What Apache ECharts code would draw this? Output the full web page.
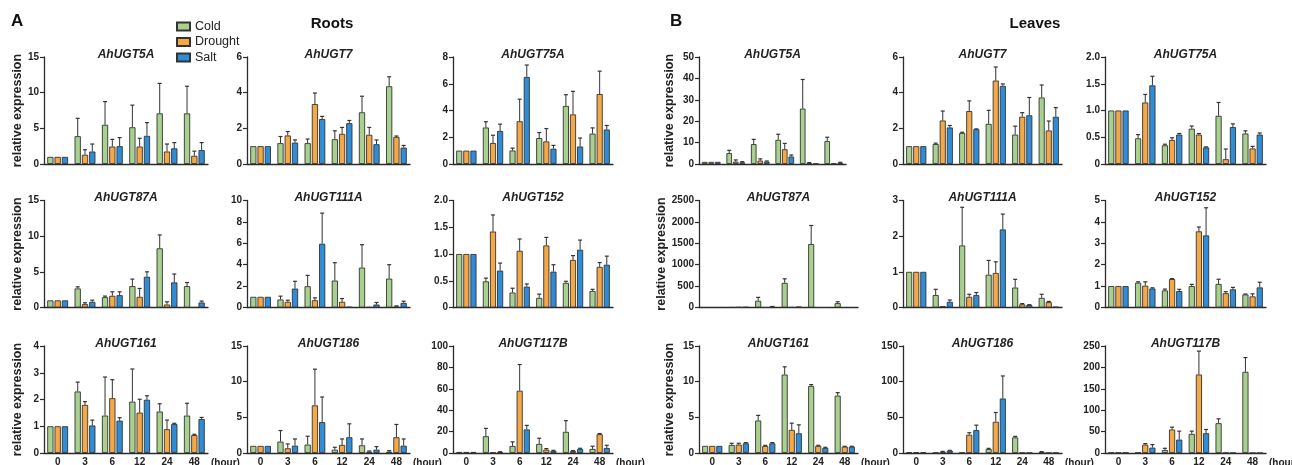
<!DOCTYPE html>
<html><head><meta charset="utf-8">
<script src="https://cdn.jsdelivr.net/npm/echarts@6/dist/echarts.min.js"></script>
<style>html,body{margin:0;padding:0;background:#fff}#c{width:1292px;height:465px}</style>
</head><body><div id="c"></div>
<script>
// ---------- DATA ----------
const hours = ['0', '3', '6', '12', '24', '48'];
const conditions = ['Cold', 'Drought', 'Salt'];

// Roots  (rows: Cold, Drought, Salt)
const rUGT5A_mean = [[1, 3.9, 5.5, 5.15, 7.1, 7.1], [1, 1.3, 2.45, 2.45, 1.75, 1.15], [1, 1.75, 2.5, 3.95, 2.2, 1.95]];
const rUGT5A_sd   = [[0, 2.5, 3.25, 3.1, 4.2, 3.8], [0, 0.7, 1.0, 1.15, 1.05, 0.65], [0, 1.05, 1.2, 1.85, 0.8, 1.05]];
const rUGT7_mean = [[1, 1.17, 1.17, 1.39, 2.9, 4.36], [1, 1.6, 3.36, 1.69, 1.64, 1.52], [1, 1.2, 2.52, 2.29, 1.11, 0.92]];
const rUGT7_sd   = [[0, 0.37, 0.23, 0.47, 0.9, 0.53], [0, 0.22, 0.62, 0.36, 0.41, 0.05], [0, 0.15, 0.15, 0.15, 0.24, 0.12]];
const rUGT75A_mean = [[1, 2.73, 1.01, 1.94, 4.34, 2.27], [1, 1.57, 3.2, 1.69, 3.71, 5.23], [1, 2.47, 6.51, 1.14, 1.31, 2.58]];
const rUGT75A_sd   = [[0, 0.43, 0.18, 0.41, 0.84, 0.43], [0, 0.58, 1.65, 0.96, 1.72, 1.71], [0, 0.51, 0.89, 0.25, 0.63, 0.3]];
const rUGT87A_mean = [[1, 2.67, 1.45, 3.0, 8.3, 3.0], [1, 0.47, 1.64, 1.5, 0.42, 0.02], [1, 0.8, 1.73, 4.31, 3.52, 0.7]];
const rUGT87A_sd   = [[0, 0.23, 0.15, 0.98, 1.87, 0.5], [0, 0.19, 0.56, 1.17, 0.38, 0], [0, 0.23, 0.47, 0.69, 1.17, 0.2]];
const rUGT111A_mean = [[1, 0.75, 1.99, 2.52, 3.73, 2.7], [1, 0.53, 0.68, 0.53, 0.03, 0.09], [1, 1.77, 5.96, 0.06, 0.28, 0.43]];
const rUGT111A_sd   = [[0, 0.31, 1.01, 1.67, 2.14, 1.3], [0, 0.15, 0.22, 0.31, 0, 0.06], [0, 0.68, 2.86, 0, 0.19, 0.16]];
const rUGT152_mean = [[1, 0.49, 0.28, 0.18, 0.46, 0.31], [1, 1.42, 1.06, 1.16, 0.89, 0.76], [1, 0.69, 0.39, 0.67, 1.08, 0.8]];
const rUGT152_sd   = [[0, 0.06, 0.08, 0.07, 0.03, 0.03], [0, 0.31, 0.22, 0.15, 0.08, 0.08], [0, 0.14, 0.05, 0.13, 0.18, 0.16]];
const rUGT161_mean = [[1, 2.3, 1.4, 1.92, 1.55, 1.4], [1, 1.8, 2.05, 1.51, 0.89, 0.67], [1, 1.03, 1.21, 1.99, 1.08, 1.27]];
const rUGT161_sd   = [[0, 0.35, 1.44, 1.22, 0.29, 0.46], [0, 0.12, 0.69, 0.5, 0.34, 0.03], [0, 0.2, 0.11, 0.15, 0.03, 0.06]];
const rUGT186_mean = [[1, 1.6, 1.18, 0.47, 1.08, 0.19], [1, 0.66, 6.68, 1.13, 0.19, 2.21], [1, 1.03, 4.33, 2.21, 0.47, 1.03]];
const rUGT186_sd   = [[0, 1.55, 1.17, 0.33, 0.89, 0.14], [0, 0.61, 5.07, 0.84, 0.09, 1.79], [0, 0.94, 3.52, 1.88, 0.42, 0.94]];
const rUGT117B_mean = [[1, 15.7, 6.6, 8.5, 19.8, 3.8], [1, 0.6, 58.2, 3.1, 1.9, 17.6], [1, 0.9, 22, 1.9, 3.8, 4.7]];
const rUGT117B_sd   = [[0, 7.3, 3.8, 5.3, 10.4, 2.5], [0, 0, 24.5, 1.0, 0.3, 0.6], [0, 0.3, 3.8, 0.6, 0.6, 2.5]];

// Leaves
const lUGT5A_mean = [[1, 5.1, 9.3, 11.3, 25.9, 10.7], [1, 1.1, 1.6, 6.9, 0.5, 0.2], [1, 0.8, 1.1, 3.5, 0.2, 0.6]];
const lUGT5A_sd   = [[0, 1.3, 2.2, 2.6, 13.6, 1.8], [0, 0.8, 0.8, 2.7, 0.14, 0], [0, 0.3, 0.3, 0.7, 0, 0.2]];
const lUGT7_mean = [[1, 1.12, 1.74, 2.25, 1.65, 3.73], [1, 2.44, 2.97, 4.68, 2.65, 1.88], [1, 2.05, 1.95, 4.38, 2.73, 2.65]];
const lUGT7_sd   = [[0, 0.05, 0.04, 0.76, 0.47, 0.7], [0, 0.53, 0.57, 0.76, 0.23, 0.53], [0, 0.11, 0.02, 0.11, 1.0, 0.51]];
const lUGT75A_mean = [[1, 0.48, 0.35, 0.66, 0.9, 0.57], [1, 1.15, 0.45, 0.55, 0.09, 0.29], [1, 1.47, 0.55, 0.31, 0.69, 0.55]];
const lUGT75A_sd   = [[0, 0.07, 0.02, 0.05, 0.25, 0.05], [0, 0.15, 0.04, 0.02, 0.19, 0.04], [0, 0.17, 0.02, 0.01, 0.06, 0.03]];
const lUGT87A_mean = [[1, 3, 158, 576, 1483, 102], [1, 8, 2, 5, 0, 0], [1, 12, 16, 20, 0, 0]];
const lUGT87A_sd   = [[0, 0, 79, 94, 433, 32], [0, 0, 0, 0, 0, 0], [0, 0, 8, 0, 0, 0]];
const lUGT111A_mean = [[1, 0.35, 1.74, 0.92, 0.56, 0.27], [1, 0.04, 0.3, 0.97, 0.09, 0.15], [1, 0.16, 0.35, 2.19, 0.07, 0.02]];
const lUGT111A_sd   = [[0, 0.16, 1.07, 0.4, 0.23, 0.1], [0, 0, 0.07, 0.31, 0.02, 0.02], [0, 0.05, 0.07, 0.43, 0.01, 0]];
const lUGT152_mean = [[1, 1.16, 0.8, 1.0, 1.1, 0.61], [1, 1.02, 1.33, 3.56, 0.67, 0.52], [1, 0.89, 0.77, 3.37, 0.85, 0.94]];
const lUGT152_sd   = [[0, 0.04, 0.06, 0.08, 0.22, 0.02], [0, 0.18, 0.02, 0.2, 0.07, 0.12], [0, 0.03, 0.08, 1.29, 0.09, 0.24]];
const lUGT161_mean = [[1, 1.13, 4.56, 11.0, 9.4, 8.04], [1, 1.18, 0.99, 3.24, 0.99, 0.89], [1, 1.36, 1.36, 2.77, 0.71, 0.89]];
const lUGT161_sd   = [[0, 0.23, 0.71, 1.08, 0.19, 0.42], [0, 0.18, 0.08, 0.94, 0.09, 0.05], [0, 0.1, 0.1, 1.18, 0.09, 0.05]];
const lUGT186_mean = [[1, 0.5, 0.5, 5.6, 21.9, 1.4], [1, 1.9, 25.6, 43.8, 0.3, 0.3], [1, 3.3, 32.1, 76.4, 0.3, 0.3]];
const lUGT186_sd   = [[0, 0, 0, 0.9, 1.4, 0.5], [0, 0.4, 2.8, 13, 0, 0], [0, 0.4, 6.9, 31.6, 0, 0]];
const lUGT117B_mean = [[1, 0.8, 7, 44.7, 69.7, 189.6], [1, 19.6, 54.9, 183.4, 0.3, 0], [1, 12.5, 31.3, 46.2, 0.3, 0]];
const lUGT117B_sd   = [[0, 0, 4, 6.3, 10.2, 33.4], [0, 2.4, 5.4, 54.6, 0, 0], [0, 7.1, 19.7, 8.7, 0, 0]];

// panel order: row by row, roots columns 0-2, leaves columns 3-5
const panelTitles = ['AhUGT5A', 'AhUGT7', 'AhUGT75A', 'AhUGT5A', 'AhUGT7', 'AhUGT75A',
                     'AhUGT87A', 'AhUGT111A', 'AhUGT152', 'AhUGT87A', 'AhUGT111A', 'AhUGT152',
                     'AhUGT161', 'AhUGT186', 'AhUGT117B', 'AhUGT161', 'AhUGT186', 'AhUGT117B'];
const panelMeans = [rUGT5A_mean, rUGT7_mean, rUGT75A_mean, lUGT5A_mean, lUGT7_mean, lUGT75A_mean,
                    rUGT87A_mean, rUGT111A_mean, rUGT152_mean, lUGT87A_mean, lUGT111A_mean, lUGT152_mean,
                    rUGT161_mean, rUGT186_mean, rUGT117B_mean, lUGT161_mean, lUGT186_mean, lUGT117B_mean];
const panelSds = [rUGT5A_sd, rUGT7_sd, rUGT75A_sd, lUGT5A_sd, lUGT7_sd, lUGT75A_sd,
                  rUGT87A_sd, rUGT111A_sd, rUGT152_sd, lUGT87A_sd, lUGT111A_sd, lUGT152_sd,
                  rUGT161_sd, rUGT186_sd, rUGT117B_sd, lUGT161_sd, lUGT186_sd, lUGT117B_sd];
const yMax  = [15, 6, 8, 50, 6, 2,   15, 10, 2, 2500, 3, 5,   4, 15, 100, 15, 150, 250];
const yStep = [5, 2, 2, 10, 2, 0.5,  5, 2, 0.5, 500, 1, 1,    1, 5, 20, 5, 50, 50];

// ---------- LAYOUT ----------
const rowTops = [57, 200.5, 346];
const rowH = 107;
const colLefts = [44, 247, 453, 699, 903, 1105];
const colWidths = [[164, 163, 160, 147, 159, 161], [164, 163, 160, 159, 159, 161], [164, 163, 160, 159, 159, 161]];
const colors = ['#a9d18e', '#f4a946', '#2e8dd6'];
const FONT = "Arial, 'Liberation Sans', sans-serif";
const BAR_FRAC = 0.23, GAP_FRAC = 0.16;
const ink = '#2b2b2b';

const grid = [], xAxis = [], yAxis = [], series = [], title = [];
title.push({text: 'A', left: 11, top: 13, padding: 0, textStyle: {fontSize: 17, fontWeight: 'bold', color: '#111', fontFamily: FONT}});
title.push({text: 'Roots', left: 332, top: 16, padding: 0, textAlign: 'center', textStyle: {fontSize: 15, fontWeight: 'bold', color: '#111', fontFamily: FONT}});
title.push({text: 'B', left: 670, top: 13, padding: 0, textStyle: {fontSize: 17, fontWeight: 'bold', color: '#111', fontFamily: FONT}});
title.push({text: 'Leaves', left: 1035, top: 16, padding: 0, textAlign: 'center', textStyle: {fontSize: 15, fontWeight: 'bold', color: '#111', fontFamily: FONT}});

function renderErr(params, api) {
  const c = api.value(0), v = api.value(1), e = api.value(2), k = api.value(3);
  if (!(e > 0)) return null;
  const band = api.size([1, 0])[0];
  const bw = band * BAR_FRAC, step = bw * (1 + GAP_FRAC);
  const p0 = api.coord([c, v]), p1 = api.coord([c, v + e]);
  const x = p0[0] + (k - 1) * step;
  const cap = 2;
  return {type: 'group', children: [
    {type: 'line', shape: {x1: x, y1: p0[1], x2: x, y2: p1[1]}, style: {stroke: '#333', lineWidth: 1}},
    {type: 'line', shape: {x1: x - cap, y1: p1[1], x2: x + cap, y2: p1[1]}, style: {stroke: '#333', lineWidth: 1.2}}
  ]};
}

for (let i = 0; i < 18; i++) {
  const row = Math.floor(i / 6), col = i % 6;
  const left = colLefts[col], w = colWidths[row][col], top = rowTops[row];
  grid.push({left: left, top: top, width: w, height: rowH, containLabel: false, outerBoundsMode: 'none'});
  const bottomRow = row === 2;
  xAxis.push({
    type: 'category', gridIndex: i, data: hours,
    axisLine: {lineStyle: {color: ink, width: 1.3}},
    axisTick: {alignWithLabel: true, length: 4, lineStyle: {color: ink, width: 1.2}},
    axisLabel: {show: bottomRow, fontSize: 10, fontWeight: 'bold', color: '#222', margin: 4.5, fontFamily: FONT},
    name: bottomRow ? '(hour)' : '', nameLocation: 'end', nameGap: 3,
    nameTextStyle: {fontSize: 10, fontWeight: 'bold', color: '#222', fontFamily: FONT, verticalAlign: 'top', align: 'left', padding: [5.5, 0, 0, 0]}
  });
  const step = yStep[i];
  yAxis.push({
    type: 'value', gridIndex: i, min: 0, max: yMax[i], interval: step,
    axisLine: {show: true, lineStyle: {color: ink, width: 1.3}},
    axisTick: {show: true, length: 4, lineStyle: {color: ink, width: 1.2}},
    splitLine: {show: false},
    axisLabel: {fontSize: 10, fontWeight: 'bold', color: '#222', margin: 5, fontFamily: FONT,
      formatter: v => (step < 1 && v !== 0) ? v.toFixed(1) : String(v)},
    name: (col === 0 || col === 3) ? 'relative expression' : '',
    nameLocation: 'middle', nameGap: col === 0 ? 20 : 23,
    nameTextStyle: {fontSize: 12.5, fontWeight: 'bold', color: '#222', fontFamily: FONT}
  });
  title.push({text: panelTitles[i], left: left + w / 2, top: top - 8.5, padding: 0, textAlign: 'center',
    textStyle: {fontSize: 12, fontWeight: 'bold', fontStyle: 'italic', color: '#222', fontFamily: FONT}});
  const mean = panelMeans[i], sd = panelSds[i];
  const errData = [];
  for (let k = 0; k < 3; k++) {
    series.push({
      type: 'bar', name: conditions[k], xAxisIndex: i, yAxisIndex: i, data: mean[k],
      barWidth: (BAR_FRAC * 100) + '%', barGap: (GAP_FRAC * 100) + '%',
      itemStyle: {color: colors[k], borderColor: '#333', borderWidth: 0.9},
      emphasis: {disabled: true}
    });
    for (let c = 0; c < hours.length; c++) errData.push([c, mean[k][c], sd[k][c], k]);
  }
  series.push({type: 'custom', name: 'sd', xAxisIndex: i, yAxisIndex: i, data: errData,
    encode: {x: 0, y: 1}, renderItem: renderErr, z: 5, silent: true});
}

const chart = echarts.init(document.getElementById('c'), null, {renderer: 'canvas'});
chart.setOption({
  animation: false,
  backgroundColor: '#fff',
  title: title,
  legend: {data: conditions, orient: 'vertical', left: 176, top: 20, padding: 0,
    itemWidth: 13, itemHeight: 8, itemGap: 2.5, icon: 'rect',
    textStyle: {fontSize: 12.5, color: '#222', fontFamily: FONT, lineHeight: 12}},
  grid: grid, xAxis: xAxis, yAxis: yAxis, series: series
});
</script></body></html>
